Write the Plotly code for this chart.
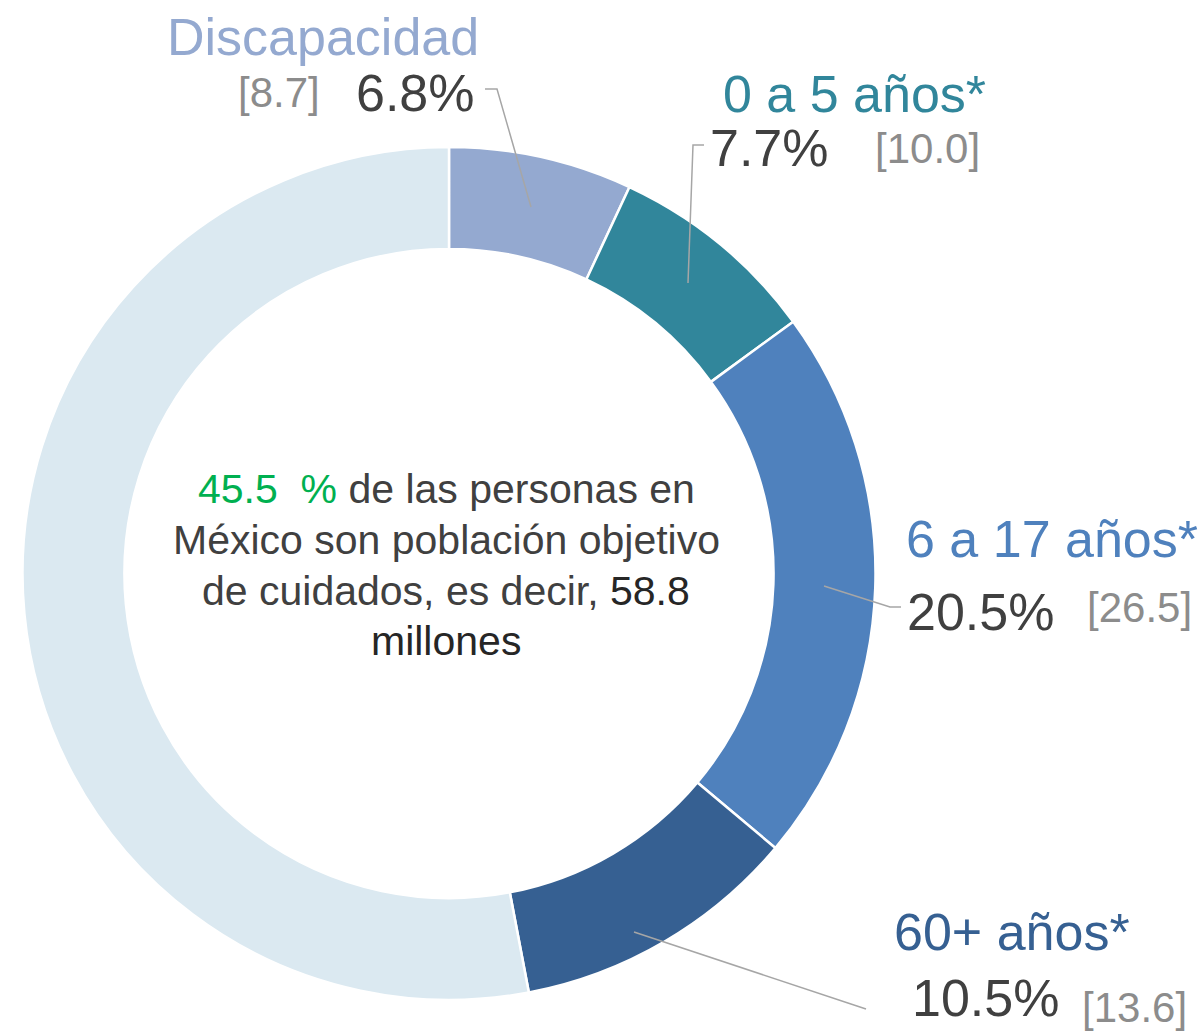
import plotly.graph_objects as go

# ---------------- data ----------------
categories = ["Discapacidad", "0 a 5 años*", "6 a 17 años*", "60+ años*", "Resto"]
millions = [8.7, 10.0, 26.5, 13.6, 66.3]          # slice sizes (Resto)
percent_labels = ["6.8%", "7.7%", "20.5%", "10.5%"]
bracket_labels = ["[8.7]", "[10.0]", "[26.5]", "[13.6]"]
center_pct = "45.5"
center_total = "58.8"

# ---------------- styles ----------------
W, H = 1204, 1031
slice_colors = ["#94A9D0", "#31869B", "#4F81BD", "#366092", "#DBE9F1"]
label_colors = ["#94A9D0", "#31869B", "#4F81BD", "#366092"]
FONT = "Liberation Sans, Arial, sans-serif"
DARK = "#404040"
GREY = "#8C8C8C"
LEADER = "#A6A6A6"

cx, cy, R = 449, 573.5, 426.5
hole = 0.761


def px(x):
    return x / W


def py(y):
    return 1 - y / H


fig = go.Figure()
fig.add_trace(go.Pie(
    labels=categories,
    values=millions,
    sort=False,
    direction="clockwise",
    rotation=0,
    hole=hole,
    marker=dict(colors=slice_colors, line=dict(color="white", width=2.5)),
    textinfo="none",
    hoverinfo="label+value",
    showlegend=False,
    domain=dict(x=[px(cx - R), px(cx + R)], y=[py(cy + R), py(cy - R)]),
))

annotations = []


def add_text(text, x, baseline, size, color, anchor="left"):
    shift = -3 if anchor == "left" else 0
    annotations.append(dict(
        text=text, x=px(x + shift), y=py(baseline - 0.35 * size),
        xref="paper", yref="paper", xanchor=anchor, yanchor="middle",
        showarrow=False, font=dict(family=FONT, size=size, color=color),
    ))


# label layout: (cat x, cat baseline), (pct x, pct baseline), (bracket x, bracket baseline)
cat_pos = [(168, 55), (724, 112), (907, 557), (895, 950)]
pct_pos = [(357, 111), (711, 166), (908, 630), (913, 1016)]
br_pos = [(239, 107), (876, 163), (1088, 622), (1083, 1022)]

for i in range(4):
    add_text(categories[i], cat_pos[i][0], cat_pos[i][1], 52, label_colors[i])
    add_text(percent_labels[i], pct_pos[i][0], pct_pos[i][1], 52, DARK)
    add_text(bracket_labels[i], br_pos[i][0], br_pos[i][1], 42, GREY)

# center text
center_lines = [
    f"<span style='color:#00B050'>{center_pct}\u00a0 %</span> de las personas en",
    "México son población objetivo",
    f"de cuidados, es decir, <span style='color:#262626'>{center_total}</span>",
    "<span style='color:#262626'>millones</span>",
]
for line, bl in zip(center_lines, [503, 554, 605, 655]):
    add_text(line, 446, bl, 41, DARK, anchor="center")

# leader lines (pixel positions)
leaders = [
    [(531, 207), (497, 89), (485, 89)],
    [(688, 283), (693, 145), (704, 145)],
    [(824, 586), (890, 607), (901, 607)],
    [(634, 932), (866, 1009)],
]
shapes = []
for pts in leaders:
    d = "M " + " L ".join(f"{px(x):.5f},{py(y):.5f}" for x, y in pts)
    shapes.append(dict(type="path", path=d, xref="paper", yref="paper",
                       line=dict(color=LEADER, width=1.5)))

fig.update_layout(
    width=W, height=H, autosize=False,
    margin=dict(l=0, r=0, t=0, b=0),
    paper_bgcolor="white", plot_bgcolor="white",
    annotations=annotations, shapes=shapes,
    font=dict(family=FONT),
)

fig.write_html("out.html", config={"displayModeBar": False},
               post_script="document.body.style.margin='0';")
